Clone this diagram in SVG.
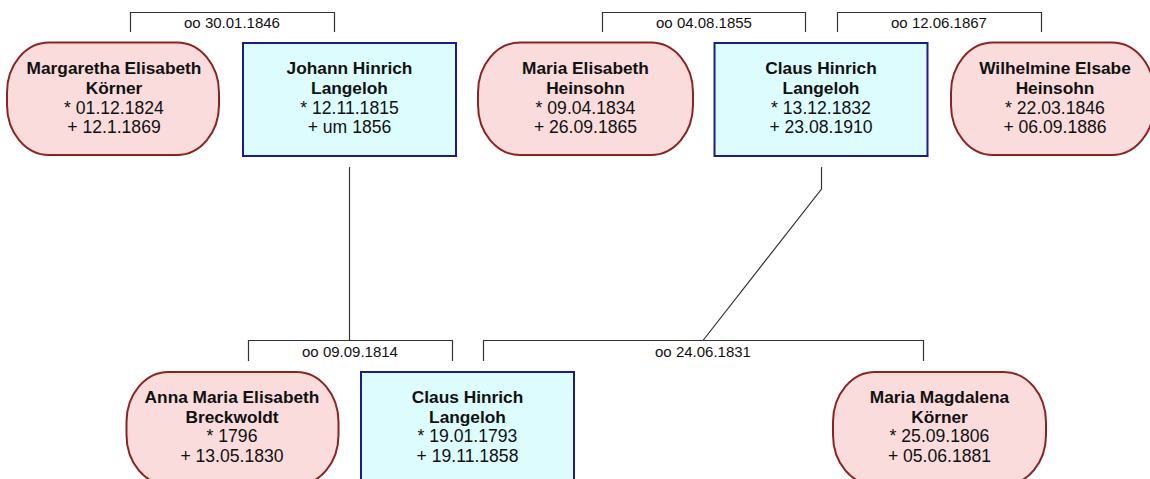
<svg xmlns="http://www.w3.org/2000/svg" width="1150" height="479" viewBox="0 0 1150 479">
  <style>
    .bg { fill: #ffffff; }
    .female { fill: #fadcdc; stroke: #8a2424; stroke-width: 2; }
    .male { fill: #dcfcfe; stroke: #1c1c86; stroke-width: 2; }
    .name { font-family: "Liberation Sans", Arial, sans-serif; font-size: 17.3px; font-weight: bold; fill: #111; text-anchor: middle; }
    .date { font-family: "Liberation Sans", Arial, sans-serif; font-size: 17.6px; fill: #111; text-anchor: middle; }
    .wed { font-family: "Liberation Sans", Arial, sans-serif; font-size: 15px; fill: #111; text-anchor: middle; }
    .link { fill: none; stroke: #333; stroke-width: 1.2; }
  </style>
  <rect class="bg" x="0" y="0" width="1150" height="479"/>

  <!-- marriage brackets and descent lines -->
  <g id="connectors">
    <path class="link" d="M130.5,32 V12.5 H334.5 V32"/>
    <text class="wed" x="232" y="28">oo 30.01.1846</text>
    <path class="link" d="M602.5,32 V12.5 H805.5 V32"/>
    <text class="wed" x="704" y="28">oo 04.08.1855</text>
    <path class="link" d="M837.5,32 V12.5 H1041.5 V32"/>
    <text class="wed" x="939" y="28">oo 12.06.1867</text>
    <path class="link" d="M248.5,361 V340.5 H452.5 V361"/>
    <text class="wed" x="350" y="357">oo 09.09.1814</text>
    <path class="link" d="M483.5,361 V340.5 H923.5 V361"/>
    <text class="wed" x="703" y="357">oo 24.06.1831</text>
    <path class="link" d="M349.5,167 V340.5"/>
    <path class="link" d="M821.5,167 V189 L703,340.5"/>
  </g>

  <g id="margaretha">
    <rect class="female" x="7" y="42.5" width="212" height="112.5" rx="42" ry="50"/>
    <text class="name" x="114" y="74">Margaretha Elisabeth</text>
    <text class="name" x="114" y="94">Körner</text>
    <text class="date" x="114" y="114">* 01.12.1824</text>
    <text class="date" x="114" y="133">+ 12.1.1869</text>
  </g>

  <g id="johann">
    <rect class="male" x="243" y="43" width="213" height="113"/>
    <text class="name" x="349.5" y="74">Johann Hinrich</text>
    <text class="name" x="349.5" y="94">Langeloh</text>
    <text class="date" x="349.5" y="114">* 12.11.1815</text>
    <text class="date" x="349.5" y="133">+ um 1856</text>
  </g>

  <g id="maria-elisabeth">
    <rect class="female" x="478" y="42.5" width="215" height="112.5" rx="42" ry="50"/>
    <text class="name" x="585.5" y="74">Maria Elisabeth</text>
    <text class="name" x="585.5" y="94">Heinsohn</text>
    <text class="date" x="585.5" y="114">* 09.04.1834</text>
    <text class="date" x="585.5" y="133">+ 26.09.1865</text>
  </g>

  <g id="claus-jr">
    <rect class="male" x="714.5" y="43" width="213" height="113"/>
    <text class="name" x="821" y="74">Claus Hinrich</text>
    <text class="name" x="821" y="94">Langeloh</text>
    <text class="date" x="821" y="114">* 13.12.1832</text>
    <text class="date" x="821" y="133">+ 23.08.1910</text>
  </g>

  <g id="wilhelmine">
    <rect class="female" x="951" y="42.5" width="203" height="112.5" rx="42" ry="50"/>
    <text class="name" x="1055" y="74">Wilhelmine Elsabe</text>
    <text class="name" x="1055" y="94">Heinsohn</text>
    <text class="date" x="1055" y="114">* 22.03.1846</text>
    <text class="date" x="1055" y="133">+ 06.09.1886</text>
  </g>

  <g id="anna">
    <rect class="female" x="126.5" y="372" width="212" height="113" rx="42" ry="50"/>
    <text class="name" x="232" y="403">Anna Maria Elisabeth</text>
    <text class="name" x="232" y="423">Breckwoldt</text>
    <text class="date" x="232" y="442">* 1796</text>
    <text class="date" x="232" y="462">+ 13.05.1830</text>
  </g>

  <g id="claus-sr">
    <rect class="male" x="361" y="372" width="213" height="113"/>
    <text class="name" x="467.5" y="403">Claus Hinrich</text>
    <text class="name" x="467.5" y="423">Langeloh</text>
    <text class="date" x="467.5" y="442">* 19.01.1793</text>
    <text class="date" x="467.5" y="462">+ 19.11.1858</text>
  </g>

  <g id="maria-magdalena">
    <rect class="female" x="833" y="372" width="213" height="113" rx="42" ry="50"/>
    <text class="name" x="939.5" y="403">Maria Magdalena</text>
    <text class="name" x="939.5" y="423">Körner</text>
    <text class="date" x="939.5" y="442">* 25.09.1806</text>
    <text class="date" x="939.5" y="462">+ 05.06.1881</text>
  </g>
</svg>
